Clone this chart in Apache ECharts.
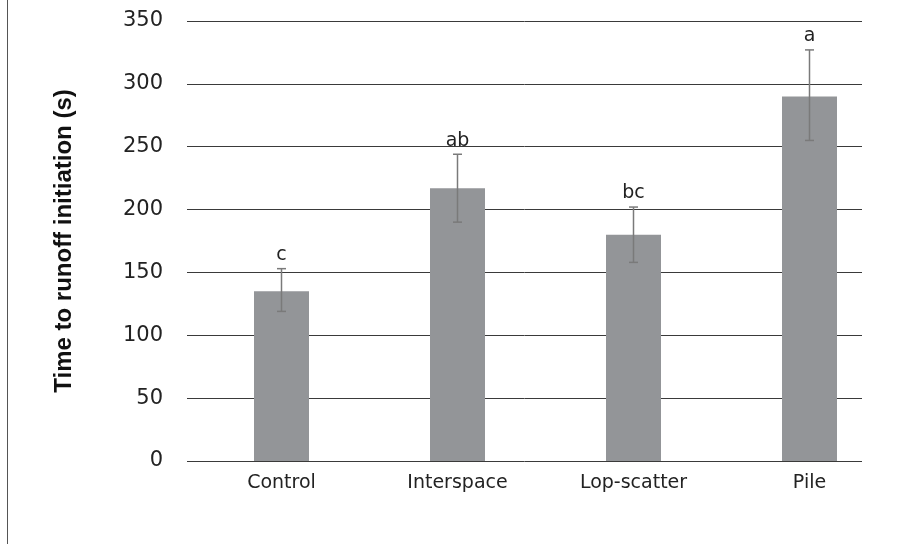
<!DOCTYPE html>
<html>
<head>
<meta charset="utf-8">
<script src="https://cdn.jsdelivr.net/npm/echarts@6/dist/echarts.min.js"></script>
<style>
html,body{margin:0;padding:0;background:#fff;}
#chart{width:921px;height:544px;}
</style>
</head>
<body>
<div id="chart"></div>
<script>
const categories = ['Control', 'Interspace', 'Lop-scatter', 'Pile'];
const means = [135, 217, 180, 290];
const errLow = [119, 190, 158, 255];
const errHigh = [153, 244, 202, 327];
const letters = ['c', 'ab', 'bc', 'a'];
const yTicks = [0, 50, 100, 150, 200, 250, 300, 350];

const chart = echarts.init(document.getElementById('chart'), null, {renderer: 'canvas'});
const FONT = 'DejaVu Sans';

const errData = categories.map((c, i) => [i, errLow[i], errHigh[i], letters[i]]);

const option = {
  backgroundColor: '#ffffff',
  animation: false,
  grid: [
    {left: 187, right: 59, top: 21, height: 440},
    {left: 193.5, width: 704, top: 21, height: 440}
  ],
  xAxis: [
    {gridIndex: 0, type: 'value', min: 0, max: 1, show: false},
    {
      gridIndex: 1, type: 'category', data: categories,
      axisLine: {show: false}, axisTick: {show: false},
      axisLabel: {color: '#222', fontFamily: FONT, fontSize: 19, margin: 13}
    }
  ],
  yAxis: [
    {
      gridIndex: 0, type: 'value', min: yTicks[0], max: yTicks[yTicks.length - 1], interval: 50,
      name: 'Time to runoff initiation (s)', nameLocation: 'middle', nameGap: 111,
      nameTextStyle: {fontFamily: 'Liberation Sans', fontWeight: 'bold', fontSize: 24, color: '#111'},
      axisLine: {show: false}, axisTick: {show: false},
      axisLabel: {color: '#222', fontFamily: FONT, fontSize: 21, margin: 24},
      splitLine: {show: true, lineStyle: {color: '#3a3a3a', width: 1}}
    },
    {gridIndex: 1, type: 'value', min: 0, max: 350, show: false, splitLine: {show: false}}
  ],
  series: [
    {
      type: 'bar', xAxisIndex: 1, yAxisIndex: 1, data: means,
      barWidth: 55, itemStyle: {color: '#939598'}, z: 3
    },
    {
      type: 'custom', xAxisIndex: 1, yAxisIndex: 1, data: errData, z: 5,
      renderItem: function (params, api) {
        const x = api.value(0);
        const lo = api.coord([x, api.value(1)]);
        const hi = api.coord([x, api.value(2)]);
        const cap = 4.5;
        const st = {stroke: '#7a7a7a', lineWidth: 1.5};
        return {
          type: 'group',
          children: [
            {type: 'line', shape: {x1: hi[0], y1: hi[1], x2: lo[0], y2: lo[1]}, style: st},
            {type: 'line', shape: {x1: hi[0] - cap, y1: hi[1], x2: hi[0] + cap, y2: hi[1]}, style: st},
            {type: 'line', shape: {x1: lo[0] - cap, y1: lo[1], x2: lo[0] + cap, y2: lo[1]}, style: st},
            {type: 'text', style: {text: api.value(3), x: hi[0], y: hi[1] - 4, textAlign: 'center', textVerticalAlign: 'bottom',
              fontFamily: FONT, fontSize: 19, fill: '#222'}}
          ]
        };
      }
    }
  ],
  graphic: [
    {type: 'line', shape: {x1: 7.5, y1: 0, x2: 7.5, y2: 544}, style: {stroke: '#555', lineWidth: 1}}
  ]
};
chart.setOption(option);
</script>
</body>
</html>
